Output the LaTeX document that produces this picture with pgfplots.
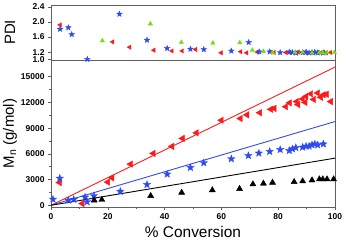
\documentclass[border=0pt]{standalone}
\usepackage{fontspec}
\setmainfont{Liberation Sans}
\usepackage{pgfplots}
\pgfplotsset{compat=1.18}

\pgfdeclareplotmark{fstar}{%
  \pgfpathmoveto{\pgfqpointpolar{90}{\pgfplotmarksize}}%
  \pgfpathlineto{\pgfqpointpolar{126}{0.42\pgfplotmarksize}}%
  \pgfpathlineto{\pgfqpointpolar{162}{\pgfplotmarksize}}%
  \pgfpathlineto{\pgfqpointpolar{198}{0.42\pgfplotmarksize}}%
  \pgfpathlineto{\pgfqpointpolar{234}{\pgfplotmarksize}}%
  \pgfpathlineto{\pgfqpointpolar{270}{0.42\pgfplotmarksize}}%
  \pgfpathlineto{\pgfqpointpolar{306}{\pgfplotmarksize}}%
  \pgfpathlineto{\pgfqpointpolar{342}{0.42\pgfplotmarksize}}%
  \pgfpathlineto{\pgfqpointpolar{18}{\pgfplotmarksize}}%
  \pgfpathlineto{\pgfqpointpolar{54}{0.42\pgfplotmarksize}}%
  \pgfpathclose
  \pgfusepathqfillstroke
}

\definecolor{myred}{RGB}{255,25,25}
\definecolor{myblue}{RGB}{45,75,240}
\definecolor{mygreen}{RGB}{110,225,20}
\definecolor{frame}{RGB}{95,95,95}

\pgfplotsset{
  base/.style={
    scale only axis, width=284bp,
    xmin=0, xmax=100,
    scaled x ticks=false, scaled y ticks=false,
    axis line style={frame, line width=0.8pt},
    tick style={frame, line width=0.6pt},
    tick align=outside,
    major tick length=3bp, minor tick length=2bp,
    xtick pos=bottom, ytick pos=left,
    tick label style={font=\fontsize{8.5}{9}\selectfont\bfseries},
    /pgf/number format/assume math mode=true,
    every axis y label/.style={at={(axis description cs:0,0.5)}, xshift=-41bp, rotate=90, anchor=center, font=\fontsize{15}{16}\selectfont},
    every axis x label/.style={at={(axis description cs:0.5,0)}, yshift=-25bp, anchor=center, font=\fontsize{15.5}{16}\selectfont},
  }
}

\begin{document}
\begin{tikzpicture}
% lower panel
\begin{axis}[base, at={(0,0)}, anchor=south west, height=147bp,
  ymin=-200, ymax=16950,
  xtick={0,20,40,60,80,100}, xticklabels={0,20,40,60,80,100},
  minor x tick num=1,
  ytick={0,3000,6000,9000,12000,15000},
  yticklabels={0,3000,6000,9000,12000,15000},
  minor y tick num=1,
  xlabel={\% Conversion},
  ylabel={M$_{\mathrm{n}}$ (g/mol)},
]
\addplot[myred, line width=0.9pt, no marks] coordinates {(0,0) (100,16120)};
\addplot[myblue, line width=0.9pt, no marks] coordinates {(0,0) (100,9770)};
\addplot[black, line width=0.9pt, no marks] coordinates {(0,0) (100,5500)};
\addplot[only marks, mark=triangle*, mark size=3.7pt, mark options={rotate=90, fill=myred, draw=myred}] coordinates {
(3,2650) (11,200) (20,2700) (21.5,3200) (28,4800) (36,6050) (42.6,6870) (46.3,7800)
(51.2,8450) (60,9920) (66.7,10120) (69,10550) (73.5,10800) (77.4,11200) (78.6,11300)
(82.7,11500) (84,11950) (86.5,12100) (87,11750) (88.6,12400) (89.8,12700) (89.5,12000)
(91.5,13000) (92.5,12350) (93.9,13100) (95,12600) (96,12900) (97,12950) (98.5,12100)
};
\addplot[only marks, mark=fstar, mark size=3.9pt, mark options={fill=myblue, draw=myblue, line width=0.3pt}] coordinates {
(0.7,700) (3.1,3150) (6.1,580) (8,680) (12,950) (12.7,400) (15.1,1100) (24.4,1620)
(33.8,2420) (40.9,3630) (49.1,4400) (53.8,4950) (63.5,5420) (69.5,5800) (73.2,6080)
(77,6270) (80.7,6500) (83.9,6380) (85,6580) (86.2,6730) (88.6,6770) (89.8,6890)
(90.9,6890) (91.9,7040) (92.9,7150) (93.9,7040) (95.9,7150)
};
\addplot[only marks, mark=triangle*, mark size=3.5pt, mark options={fill=black, draw=black}] coordinates {
(15.2,580) (17.9,650) (35.1,1100) (46,1480) (56.8,1770) (66.4,1920) (71.1,2460)
(74.8,2540) (78,2650) (85.6,2730) (88.6,2810) (91.9,2920) (94.5,3040) (95.7,3040)
(97.2,3040) (99.5,3040)
};
\end{axis}
% upper panel
\begin{axis}[base, at={(0,147bp)}, anchor=south west, height=55bp,
  ymin=0.99, ymax=2.45,
  xtick=\empty,
  ytick={1.0,1.2,1.6,2.0,2.4},
  yticklabels={1.0,1.2,1.6,2.0,2.4},
  ylabel={PDI},
]
\addplot[only marks, mark=triangle*, mark size=2.5pt, mark options={rotate=90, fill=myred, draw=myred}] coordinates {
(3.2,1.92) (21.7,1.47) (27.7,1.33) (36.2,1.25) (42.6,1.23) (46.2,1.23) (50.9,1.27)
(59.9,1.18) (66.8,1.21) (68.9,1.18) (72.7,1.20) (77.4,1.20) (78.6,1.19) (82.7,1.19)
(84,1.19) (86.5,1.18) (87,1.20) (88.6,1.19) (89.8,1.18) (89.5,1.20) (91.5,1.19)
(92.5,1.18) (93.9,1.19) (95,1.18) (96,1.19) (97,1.18) (98.5,1.19)
};
\addplot[only marks, mark=fstar, mark size=3pt, mark options={fill=myblue, draw=myblue, line width=0.3pt}] coordinates {
(3.2,1.81) (6.1,1.85) (7.3,1.67) (12.8,1.01) (24.1,2.21) (33.8,1.52) (40.9,1.30)
(49.1,1.28) (53.8,1.27) (63.5,1.23) (69.6,1.46) (73.3,1.21) (77,1.21) (80.7,1.19)
(83.9,1.2) (85,1.19) (86.2,1.18) (88.6,1.19) (89.8,1.2) (90.9,1.18) (91.9,1.19)
(92.9,1.2) (93.9,1.18) (95.9,1.18)
};
\addplot[only marks, mark=triangle*, mark size=2.5pt, mark options={fill=mygreen, draw=mygreen}] coordinates {
(18.1,1.50) (35,1.95) (45.9,1.46) (57,1.44) (66.5,1.45) (70.9,1.25) (74.8,1.22)
(78,1.19) (85.9,1.19) (88.6,1.19) (91.9,1.18) (94.5,1.19) (95.7,1.18) (97.2,1.19)
(99.8,1.19)
};
\end{axis}
\pgfresetboundingbox
\path[use as bounding box] (-51bp,-37bp) rectangle (294bp,207bp);
\end{tikzpicture}
\end{document}
